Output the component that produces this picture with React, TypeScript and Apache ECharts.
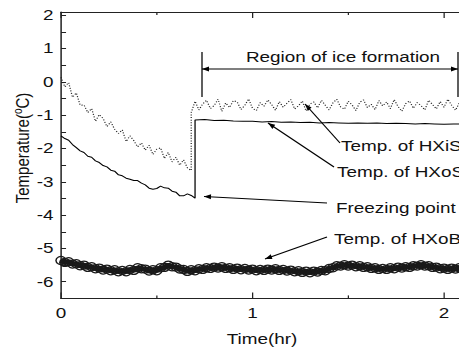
import React, { useEffect, useRef } from "react";
import * as echarts from "echarts";

// ---- data ----
const STEP = 0.02;
// Temp. of HXiS (dotted, noisy) before and after ice forms
const hxisStart = 0;
const hxisBefore = [
  0.14, -0.15, -0.02, -0.46, -0.33, -0.7, -0.69, -0.92, -0.8, -1.18,
  -0.98, -1.1, -1.34, -1.2, -1.42, -1.55, -1.44, -1.79, -1.62, -1.76,
  -1.95, -1.83, -2.05, -1.9, -2.18, -2.02, -1.98, -2.3, -2.12, -2.4,
  -2.26, -2.5, -2.34, -2.58, -2.66,
];
const hxisJump = 0.68;
const hxisAfter = [
  -0.92, -0.58, -0.84, -0.66, -0.55, -0.8, -0.71, -0.52, -0.88, -0.63,
  -0.77, -0.56, -0.6, -0.83, -0.7, -0.51, -0.79, -0.86, -0.62, -0.73,
  -0.54, -0.68, -0.85, -0.59, -0.76, -0.64, -0.53, -0.81, -0.72, -0.57,
  -0.87, -0.66, -0.6, -0.78, -0.55, -0.7, -0.84, -0.63, -0.52, -0.75,
  -0.82, -0.58, -0.69, -0.86, -0.61, -0.54, -0.77, -0.67, -0.83, -0.56,
  -0.72, -0.6, -0.8, -0.53, -0.74, -0.88, -0.65, -0.57, -0.79, -0.62,
  -0.71, -0.84, -0.55, -0.68, -0.81, -0.59, -0.76, -0.52, -0.7, -0.85,
  -0.63, -0.58, -0.78, -0.66, -0.83, -0.56, -0.73,
];
// Temp. of HXoS (solid)
const hxosBefore = [
  -1.62, -1.7, -1.75, -1.88, -1.97, -2.07, -2.12, -2.23, -2.26, -2.37,
  -2.42, -2.51, -2.55, -2.65, -2.68, -2.79, -2.82, -2.89, -2.92, -2.96,
  -2.96, -3.04, -3.09, -3.19, -3.22, -3.2, -3.13, -3.18, -3.19, -3.28,
  -3.31, -3.42, -3.42, -3.36, -3.41, -3.49,
];
const hxosJump = 0.7;
const hxosAfterStep = 0.05;
const hxosAfter = [
  -1.14, -1.13, -1.16, -1.15, -1.17, -1.18, -1.18, -1.2, -1.19, -1.21,
  -1.2, -1.22, -1.21, -1.23, -1.22, -1.23, -1.24, -1.23, -1.24, -1.23,
  -1.25, -1.24, -1.25, -1.26, -1.25, -1.26, -1.27, -1.26, -1.27, -1.28,
  -1.28,
];
// Temp. of HXoB (thick band of circles)
const hxob = [
  -5.36, -5.42, -5.4, -5.47, -5.46, -5.52, -5.5, -5.57, -5.55, -5.61,
  -5.59, -5.65, -5.62, -5.67, -5.64, -5.7, -5.66, -5.7, -5.63, -5.66,
  -5.58, -5.61, -5.62, -5.68, -5.64, -5.67, -5.58, -5.57, -5.5, -5.55,
  -5.56, -5.62, -5.63, -5.69, -5.64, -5.67, -5.61, -5.63, -5.58, -5.6,
  -5.56, -5.59, -5.55, -5.6, -5.58, -5.63, -5.59, -5.64, -5.6, -5.65,
  -5.62, -5.67, -5.63, -5.66, -5.62, -5.65, -5.61, -5.66, -5.63, -5.68,
  -5.65, -5.7, -5.67, -5.72, -5.68, -5.73, -5.68, -5.71, -5.66, -5.67,
  -5.6, -5.58, -5.52, -5.53, -5.49, -5.53, -5.5, -5.55, -5.52, -5.57,
  -5.55, -5.6, -5.58, -5.63, -5.6, -5.63, -5.58, -5.61, -5.56, -5.59,
  -5.55, -5.57, -5.52, -5.53, -5.49, -5.53, -5.52, -5.57, -5.56, -5.61,
  -5.59, -5.63, -5.59, -5.62, -5.58, -5.61, -5.59, -5.62, -5.6, -5.62,
  -5.6,
];
const yTicks = { min: -6.5, max: 2.1, interval: 0.5 };
const xTicks = { min: 0, max: 2.5, interval: 1 };

// ---- layout ----
const S = 1.26; // horizontal stretch of the original figure
const X = (x: number) => x / S;
const FONT = "'Liberation Sans', Arial, Helvetica, sans-serif";
const INK = "#111";

const toPairs = (start: number, step: number, vals: number[]) =>
  vals.map((v, i) => [Number((start + i * step).toFixed(4)), v]);

function arrowHead(tx: number, ty: number, fx: number, fy: number, len = 7, hw = 2.5) {
  const dx = tx - fx, dy = ty - fy;
  const d = Math.hypot(dx, dy);
  const ux = dx / d, uy = dy / d;
  const bx = tx - ux * len, by = ty - uy * len;
  return {
    type: "polygon",
    silent: true,
    shape: { points: [[X(tx), ty], [X(bx - uy * hw), by + ux * hw], [X(bx + uy * hw), by - ux * hw]] },
    style: { fill: "#000" },
  };
}
function seg(x1: number, y1: number, x2: number, y2: number) {
  return { type: "line", silent: true, shape: { x1: X(x1), y1, x2: X(x2), y2 }, style: { stroke: "#000", lineWidth: 1 } };
}
function arrow(fx: number, fy: number, tx: number, ty: number) {
  return [seg(fx, fy, tx, ty), arrowHead(tx, ty, fx, fy)];
}
function label(text: string, x: number, y: number, align = "left") {
  return {
    type: "text", silent: true, x: X(x), y,
    style: { text, fontSize: 15, fontFamily: FONT, fill: INK, align, verticalAlign: "middle" },
  };
}

const isInt = (v: number) => Math.abs(v - Math.round(v)) < 1e-6;

export default function App() {
  const ref = useRef<HTMLDivElement>(null);
  useEffect(() => {
    document.body.style.margin = "0";
    const chart = echarts.init(ref.current!, undefined, { renderer: "svg" });
    const pxPerHr = 191.5 / S;
    const axisX = (pos: "bottom" | "top") => ({
      type: "value",
      position: pos,
      min: xTicks.min, max: xTicks.max, interval: xTicks.interval,
      axisLine: { show: true, onZero: false, lineStyle: { color: "#222", width: 1.2 } },
      axisTick: { show: true, inside: true, length: 6, lineStyle: { color: "#222" } },
      minorTick: { show: true, splitNumber: 2, length: 3, lineStyle: { color: "#222" } },
      splitLine: { show: false },
      axisLabel: pos === "bottom"
        ? { show: true, margin: 7, fontSize: 15, fontFamily: FONT, color: INK,
            formatter: (v: number) => (isInt(v) && v <= 2 ? String(Math.round(v)) : "") }
        : { show: false },
    });
    const option: any = {
      animation: false,
      backgroundColor: "#fff",
      grid: {
        left: X(61), top: 12, width: xTicks.max * pxPerHr, height: 286.4,
        containLabel: false, outerBoundsMode: "none",
      },
      xAxis: [axisX("bottom"), axisX("top")],
      yAxis: {
        type: "value",
        min: yTicks.min, max: yTicks.max, interval: yTicks.interval,
        axisLine: { show: true, onZero: false, lineStyle: { color: "#222", width: 1.2 } },
        axisTick: { show: true, inside: true, length: 4, lineStyle: { color: "#222" } },
        splitLine: { show: false },
        axisLabel: { margin: 6, fontSize: 15, fontFamily: FONT, color: INK,
          formatter: (v: number) => (isInt(v) ? String(Math.round(v)) : "") },
      },
      series: [
        {
          name: "Temp. of HXoB", type: "line",
          data: toPairs(0, STEP, hxob),
          symbol: "circle", symbolSize: 8, showSymbol: true, showAllSymbol: true,
          itemStyle: { color: "rgba(255,255,255,0)", borderColor: "#1a1a1a", borderWidth: 1.2 },
          lineStyle: { color: "#1a1a1a", width: 5 },
        },
        {
          name: "Temp. of HXiS", type: "line",
          data: [...toPairs(hxisStart, STEP, hxisBefore), ...toPairs(hxisJump, STEP, hxisAfter)],
          symbol: "none",
          lineStyle: { color: "#222", width: 1, type: [1, 1.6] },
        },
        {
          name: "Temp. of HXoS", type: "line",
          data: [...toPairs(0, STEP, hxosBefore), ...toPairs(hxosJump, hxosAfterStep, hxosAfter)],
          symbol: "none",
          lineStyle: { color: "#000", width: 1 },
        },
      ],
      graphic: [
        // axis names
        label("Time(hr)", 262, 339, "center"),
        {
          type: "text", silent: true, x: X(23), y: 148, rotation: Math.PI / 2,
          style: {
            text: "{a|Temperature(}{s|o}{a|C)}",
            align: "center", verticalAlign: "middle",
            rich: {
              a: { fontSize: 15, fontFamily: FONT, fill: INK, lineHeight: 18 },
              s: { fontSize: 10, fontFamily: FONT, fill: INK, verticalAlign: "top" },
            },
          },
        },
        // region of ice formation
        label("Region of ice formation", 343, 57.5, "center"),
        seg(202, 52, 202, 97),
        seg(458, 52, 458, 97),
        seg(202, 69, 458, 69),
        arrowHead(202, 69, 230, 69),
        arrowHead(458, 69, 430, 69),
        // series annotations
        label("Temp. of HXiS", 341, 146),
        ...arrow(340, 143, 305, 104),
        label("Temp. of HXoS", 337, 172),
        ...arrow(334, 167, 268, 123),
        label("Freezing point", 336, 208),
        ...arrow(327, 203, 204, 196.5),
        label("Temp. of HXoB", 334, 239),
        ...arrow(327, 237, 265, 259),
      ],
    };
    chart.setOption(option);
    return () => chart.dispose();
  }, []);
  return (
    <div style={{ position: "absolute", left: 0, top: 0, width: 459, height: 351, overflow: "hidden", background: "#fff" }}>
      <div ref={ref} style={{ width: 472 / S, height: 351, transform: `scaleX(${S})`, transformOrigin: "0 0" }} />
    </div>
  );
}
